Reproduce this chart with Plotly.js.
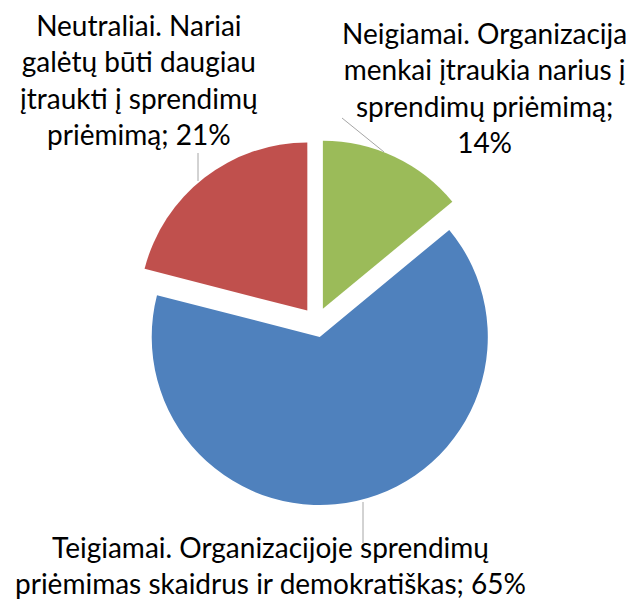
<!DOCTYPE html>
<html>
<head>
<meta charset="utf-8">
<script src="https://cdn.plot.ly/plotly-3.0.1.min.js"></script>
<style>html,body{margin:0;padding:0;background:#fff;}#chart{width:629px;height:599px;}</style>
</head>
<body>
<div id="chart"></div>
<script>
// Data (clockwise from 12 o'clock)
const categories = [
  "Neigiamai. Organizacija<br>menkai įtraukia narius į<br>sprendimų priėmimą;<br>14%",
  "Teigiamai. Organizacijoje sprendimų<br>priėmimas skaidrus ir demokratiškas; 65%",
  "Neutraliai. Nariai<br>galėtų būti daugiau<br>įtraukti į sprendimų<br>priėmimą; 21%"
];
const values = [14, 65, 21];
const colors = ["#9BBB59", "#4F81BD", "#C0504D"];

const W = 629, H = 599;
const px = (x) => x / W;
const py = (y) => 1 - y / H;

const labelPos = [
  {x: 484, y: 88},
  {x: 270, y: 565},
  {x: 139, y: 79}
];
const leaders = [
  [[342, 118], [384, 152]],
  [[363, 502], [363, 543]],
  [[198, 153], [198, 181]]
];

const trace = {
  type: "pie",
  values: values,
  labels: categories,
  sort: false,
  direction: "clockwise",
  rotation: 0,
  pull: [0.089, 0.089, 0.089],
  marker: {colors: colors, line: {width: 0}},
  textinfo: "none",
  hoverinfo: "none",
  domain: {x: [px(133.5), px(499.5)], y: [py(505.4), py(139.4)]}
};

const annotations = categories.map((c, i) => ({
  xref: "paper", yref: "paper",
  x: px(labelPos[i].x), y: py(labelPos[i].y),
  xanchor: "center", yanchor: "middle",
  text: c, showarrow: false, align: "center",
  font: {family: "Lato, 'Open Sans', sans-serif", size: 28, color: "#000"}
}));

const shapes = leaders.map(l => ({
  type: "line", xref: "paper", yref: "paper",
  x0: px(l[0][0]), y0: py(l[0][1]), x1: px(l[1][0]), y1: py(l[1][1]),
  line: {color: "#A6A6A6", width: 1}
}));

Plotly.newPlot("chart", [trace], {
  width: W, height: H,
  margin: {l: 0, r: 0, t: 0, b: 0},
  showlegend: false,
  paper_bgcolor: "#fff",
  annotations: annotations,
  shapes: shapes
}, {displayModeBar: false, staticPlot: true});
</script>
</body>
</html>
